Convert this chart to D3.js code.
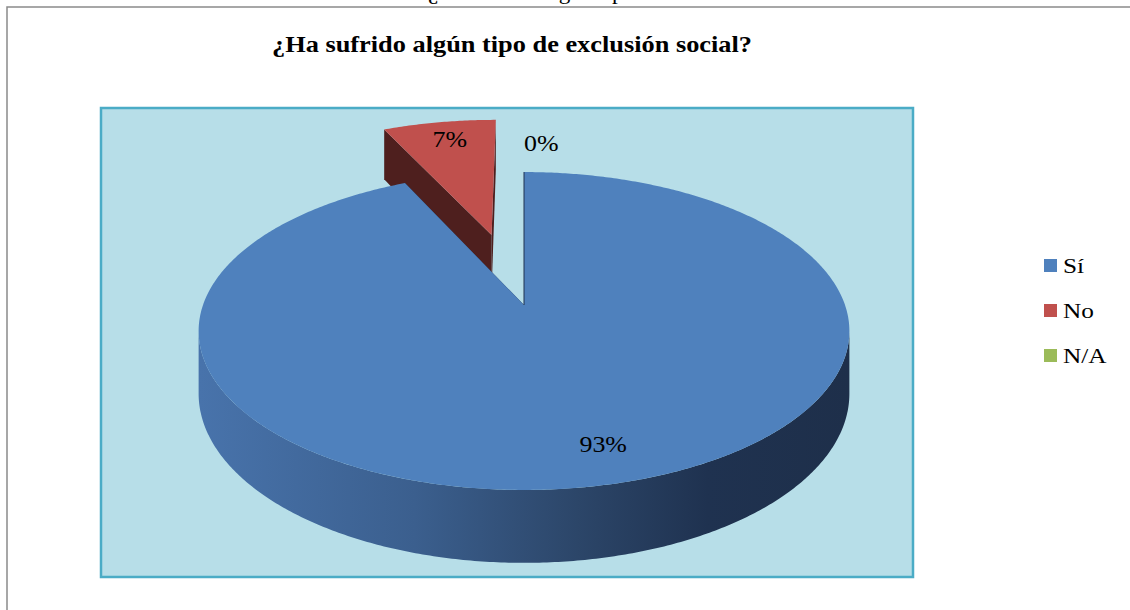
<!DOCTYPE html>
<html><head><meta charset="utf-8">
<script src="https://cdn.jsdelivr.net/npm/d3@7"></script>
<style>body{margin:0;background:#fff}svg{display:block}</style>
</head><body>
<svg id="c" width="1130" height="610"></svg>
<script>
// ---- data ----
const categories = ["Sí", "No", "N/A"];
const values = [93, 7, 0];
const pctLabels = ["93%", "7%", "0%"];
const explode = [0, 0.5, 0];
const chartTitle = "¿Ha sufrido algún tipo de exclusión social?";
const captionPrefix = "Gráfico N° 14: ";

// ---- styles ----
const topColors = ["#4f81bd", "#c0504d", "#9bbb59"];
const sideColors = ["#1f3250", "#4e1f1e", "#4f5f2d"];
const serif = "'Liberation Serif','Times New Roman',serif";

const svg = d3.select("#c");
const defs = svg.append("defs");

function stretchedText(parent, x, y, sx, size, txt, anchor, weight) {
  return parent.append("text")
    .attr("transform", `translate(${x},${y}) scale(${sx},1)`)
    .attr("text-anchor", anchor || "start")
    .attr("font-family", serif).attr("font-size", size)
    .attr("font-weight", weight || "normal").attr("fill", "#000").text(txt);
}

// outer chart border (cut by viewport)
svg.append("rect").attr("x", 7).attr("y", 7).attr("width", 1200).attr("height", 700)
  .attr("fill", "#fff").attr("stroke", "#8a8a8a").attr("stroke-width", 1.5);

// caption cut off at the top (as in the reference)
stretchedText(svg, 430, -1, 1.1, 21, captionPrefix, "end");
stretchedText(svg, 428, -1, 1.1, 21, chartTitle, "start");

// title
svg.append("text").attr("x", 272).attr("y", 52)
  .attr("textLength", 480).attr("lengthAdjust", "spacingAndGlyphs")
  .attr("font-family", serif).attr("font-size", 23).attr("font-weight", "bold")
  .attr("fill", "#000").text(chartTitle);

// plot area
svg.append("rect").attr("x", 101).attr("y", 108).attr("width", 812).attr("height", 469)
  .attr("fill", "#b7dee8").attr("stroke", "#4bacc6").attr("stroke-width", 2.5);

// ---- 3D perspective pie ----
const cx = 524, cy = 305, K = 321, A = 154.7, c = -0.1635, D = 61;
function proj(X, Y) {
  const w = 1 + c * Y;
  return [cx + K * X / w, cy + A * Y / w, w];
}
function down(p) { return [p[0], p[1] + D / p[2]]; }

const pie = d3.pie().sort(null).value(d => d);
const arcs = pie(values);

function pt(i, ang, r) {
  const d = arcs[i];
  const mid = (d.startAngle + d.endAngle) / 2;
  const o = explode[i];
  const X = o * Math.sin(mid) + r * Math.sin(ang);
  const Y = -o * Math.cos(mid) - r * Math.cos(ang);
  return proj(X, Y);
}
function arcPts(i, a0, a1, r) {
  const n = Math.max(2, Math.ceil(Math.abs(a1 - a0) / 0.01));
  return d3.range(n + 1).map(k => pt(i, a0 + (a1 - a0) * k / n, r));
}
const line = d3.line().x(p => p[0]).y(p => p[1]);

const grad = defs.append("linearGradient").attr("id", "side0")
  .attr("gradientUnits", "userSpaceOnUse").attr("x1", 200).attr("x2", 850).attr("y1", 0).attr("y2", 0);
[[0, "#4873ab"], [0.33, "#3b5f8e"], [0.58, "#2c4669"], [0.78, "#1f3250"], [1, "#1e2f4a"]]
  .forEach(s => grad.append("stop").attr("offset", s[0]).attr("stop-color", s[1]));

const visA0 = Math.PI - Math.acos(-c), visA1 = Math.PI + Math.acos(-c);
const g = svg.append("g");
// draw order: back slices first (red), then blue
const order = [1, 0];
order.forEach(i => {
  const d = arcs[i];
  if (d.endAngle - d.startAngle <= 0) return;
  const apex = pt(i, 0, 0);
  const sideFill = i === 0 ? "url(#side0)" : sideColors[i];
  // outer wall (front-facing part)
  const w0 = Math.max(d.startAngle, visA0), w1 = Math.min(d.endAngle, visA1);
  if (w1 > w0) {
    const topA = arcPts(i, w0, w1, 1);
    const botA = topA.map(down).reverse();
    g.append("path").attr("d", line(topA.concat(botA)) + "Z").attr("fill", sideFill);
  }
  // cut faces
  [d.startAngle, d.endAngle].forEach(a => {
    const e = pt(i, a, 1);
    g.append("path").attr("d", line([apex, e, down(e), down(apex)]) + "Z")
      .attr("fill", sideColors[i]);
  });
  // top face
  const topPts = [apex].concat(arcPts(i, d.startAngle, d.endAngle, 1));
  g.append("path").attr("d", line(topPts) + "Z").attr("fill", topColors[i]);
  if (i === 0) {
    const e = pt(i, d.startAngle, 1);
    g.append("path").attr("d", line([e, apex])).attr("stroke", sideColors[0])
      .attr("stroke-width", 1).attr("fill", "none");
  }
});

// data labels
const labelR = [0.8, 0.84, 1.27];
const labelDx = [15, 3, 0];
const labelAnchor = ["middle", "middle", "start"];
arcs.forEach((d, i) => {
  const mid = (d.startAngle + d.endAngle) / 2;
  const p = pt(i, mid, labelR[i]);
  stretchedText(svg, p[0] + labelDx[i], p[1] + 9, 1.08, 24, pctLabels[i], labelAnchor[i]);
});

// legend
const leg = svg.append("g");
categories.forEach((cat, i) => {
  const y = 259 + i * 45;
  leg.append("rect").attr("x", 1044).attr("y", y).attr("width", 13).attr("height", 13)
    .attr("fill", topColors[i]);
  stretchedText(leg, 1063, y + 14, 1.15, 22, cat, "start");
});
</script>
</body></html>
